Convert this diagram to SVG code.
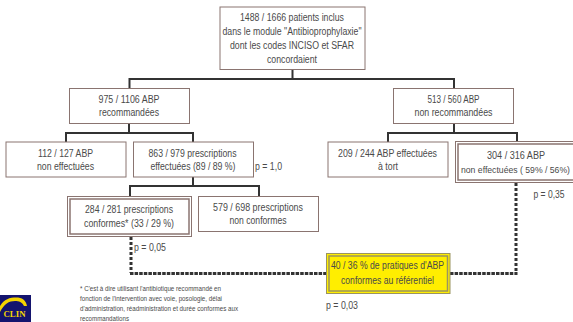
<svg xmlns="http://www.w3.org/2000/svg" width="573" height="322" viewBox="0 0 573 322">
<style>
text{font-family:"Liberation Sans",Arial,sans-serif;font-size:10px;fill:#4a4a4a;text-anchor:middle}
.l{text-anchor:start}
.n{font-size:6.8px}
.b{fill:#fff;stroke:#8a7470;stroke-width:1}
.o{fill:#fff;stroke:#8a7470;stroke-width:1}
.i{fill:none;stroke:#8a7470;stroke-width:1.5}
.c{fill:none;stroke:#333;stroke-width:2}
.v{fill:none;stroke:#333;stroke-width:3;stroke-dasharray:3 2}
.h{fill:none;stroke:#333;stroke-width:3;stroke-dasharray:3.500 1.100}
</style>
<rect width="573" height="322" fill="#fff"/>
<g id="connectors">
<path class="c" d="M292.500 69V79M129.500 88V79H454V88M129 124V133M66 142V133H193V142M193 177V186M130 196V186H259V196M454 124V133M388 142V133H517V142"/>
<path class="v" d="M131 237V273M516 183V273"/>
<path class="h" d="M130 273.500H326M450 273.500H517.500"/>
</g>
<g id="n1"><rect class="b" x="220" y="7" width="145" height="62.500"/><text x="292" y="21" textLength="104" lengthAdjust="spacingAndGlyphs">1488 / 1666 patients inclus</text><text x="292" y="35" textLength="139" lengthAdjust="spacingAndGlyphs">dans le module "Antibioprophylaxie"</text><text x="292" y="49" textLength="124" lengthAdjust="spacingAndGlyphs">dont les codes INCISO et SFAR</text><text x="292" y="63" textLength="50" lengthAdjust="spacingAndGlyphs">concordaient</text></g>
<g id="n2"><rect class="b" x="69.500" y="88.500" width="120" height="35"/><text x="129" y="103" textLength="61" lengthAdjust="spacingAndGlyphs">975 / 1106 ABP</text><text x="129" y="116" textLength="60" lengthAdjust="spacingAndGlyphs">recommandées</text></g>
<g id="n3"><rect class="b" x="393.500" y="88.500" width="120" height="35"/><text x="453.500" y="103" textLength="52" lengthAdjust="spacingAndGlyphs">513 / 560 ABP</text><text x="453.500" y="116" textLength="78" lengthAdjust="spacingAndGlyphs">non recommandées</text></g>
<g id="n4"><rect class="b" x="6" y="142" width="120" height="35"/><text x="65.500" y="157" textLength="55" lengthAdjust="spacingAndGlyphs">112 / 127 ABP</text><text x="65.500" y="170" textLength="57" lengthAdjust="spacingAndGlyphs">non effectuées</text></g>
<g id="n5"><rect class="b" x="133.500" y="142" width="120" height="35"/><text x="192.500" y="157" textLength="88" lengthAdjust="spacingAndGlyphs">863 / 979 prescriptions</text><text x="193" y="170" textLength="85" lengthAdjust="spacingAndGlyphs">effectuées (89 / 89 %)</text></g>
<g id="n6"><rect class="b" x="328" y="142" width="120" height="35"/><text x="387.500" y="157" textLength="99" lengthAdjust="spacingAndGlyphs">209 / 244 ABP effectuées</text><text x="388" y="170" textLength="20" lengthAdjust="spacingAndGlyphs">à tort</text></g>
<g id="n7"><rect class="o" x="455.500" y="141.500" width="120" height="41"/><rect class="i" x="458" y="144" width="120" height="36"/><text x="516" y="159" textLength="58" lengthAdjust="spacingAndGlyphs">304 / 316 ABP</text><text x="515.500" y="173" textLength="109" lengthAdjust="spacingAndGlyphs" style="font-size:9px">non effectuées ( 59% / 56%)</text></g>
<g id="n8"><rect class="o" x="67.500" y="196.500" width="124" height="40"/><rect class="i" x="70" y="199" width="119" height="35"/><text x="129" y="213" textLength="88" lengthAdjust="spacingAndGlyphs">284 / 281 prescriptions</text><text x="129" y="227" textLength="90" lengthAdjust="spacingAndGlyphs">conformes* (33 / 29 %)</text></g>
<g id="n9"><rect class="b" x="198.500" y="196.500" width="120" height="35"/><text x="258" y="211" textLength="90" lengthAdjust="spacingAndGlyphs">579 /  698 prescriptions</text><text x="258" y="224" textLength="57" lengthAdjust="spacingAndGlyphs">non conformes</text></g>
<g id="n10"><rect x="326.500" y="253.500" width="123.500" height="40" fill="#ffee00" stroke="#9a9460"/><rect x="329" y="256" width="118.500" height="35" fill="none" stroke="#9a9460" stroke-width="1.500"/><text x="387.500" y="269" textLength="113" lengthAdjust="spacingAndGlyphs">40 / 36 % de pratiques d'ABP</text><text x="387.500" y="284" textLength="93" lengthAdjust="spacingAndGlyphs">conformes au référentiel</text></g>
<g id="labels">
<text class="l" x="255" y="170" textLength="27" lengthAdjust="spacingAndGlyphs">p = 1,0</text>
<text class="l" x="134" y="250.500" textLength="32" lengthAdjust="spacingAndGlyphs">p = 0,05</text>
<text class="l" x="533.500" y="198" textLength="31" lengthAdjust="spacingAndGlyphs">p = 0,35</text>
<text class="l" x="326" y="308.500" textLength="32" lengthAdjust="spacingAndGlyphs">p = 0,03</text>
<text class="l n" x="80" y="290.500" textLength="141" lengthAdjust="spacingAndGlyphs">* C'est à dire utilisant l'antibiotique recommandé en</text>
<text class="l n" x="80" y="300.500" textLength="142" lengthAdjust="spacingAndGlyphs">fonction de l'intervention avec voie, posologie, délai</text>
<text class="l n" x="80" y="310.500" textLength="158" lengthAdjust="spacingAndGlyphs">d'administration, réadministration et durée conformes aux</text>
<text class="l n" x="80" y="320.500" textLength="49" lengthAdjust="spacingAndGlyphs">recommandations</text>
</g>
<g id="logo">
<rect x="0" y="295" width="31" height="27" fill="#14146e"/>
<path d="M0 306C4 299 10 297.500 16 297.500C22 297.500 26 300 27 306H24C22 302 19 301 15 301C9 301 4 304 0 312Z" fill="#f5d400"/>
<text x="14.500" y="316.500" textLength="22" lengthAdjust="spacingAndGlyphs" style="font-family:'Liberation Serif',serif;font-weight:bold;font-size:8.500px;fill:#f5d400">CLIN</text>
</g>
</svg>
